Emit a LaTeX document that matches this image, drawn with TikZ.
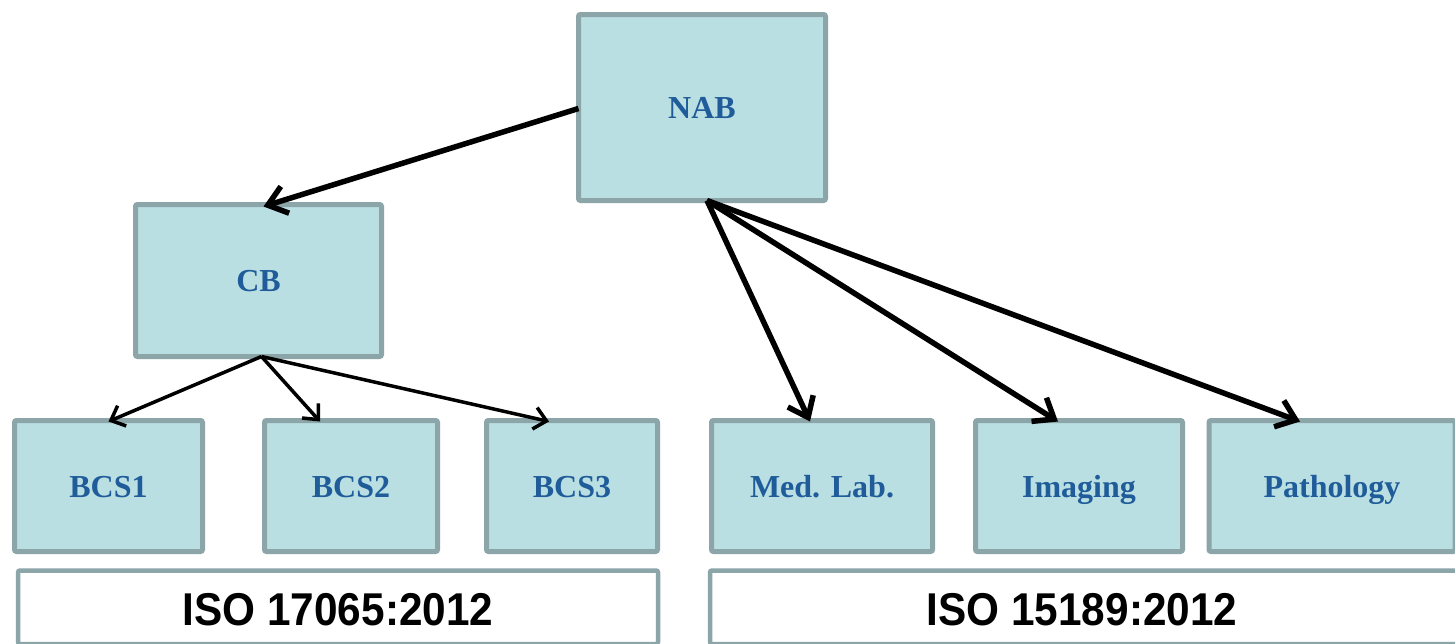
\documentclass[tikz,border=0pt]{standalone}
\usepackage{fontspec}
\setmainfont{Liberation Serif}
\newfontfamily\isofont{Liberation Sans}
\usetikzlibrary{arrows.meta,calc}
\definecolor{boxfill}{HTML}{BADFE3}
\definecolor{boxline}{HTML}{8BA5A8}
\definecolor{boxtext}{HTML}{1F5C99}
\begin{document}
\begin{tikzpicture}[x=1pt,y=-1pt,
  unit/.style={draw=boxline,fill=boxfill,line width=5pt,rounded corners=2pt,
    text=boxtext,font=\fontsize{32}{36}\selectfont\bfseries,inner sep=0pt,outer sep=0pt,
    text height=22pt,text depth=0pt},
  isobox/.style={draw=boxline,fill=white,line width=4.5pt,rounded corners=2pt,inner sep=0pt,outer sep=0pt},
  isotext/.style={font=\isofont\fontsize{46}{50}\selectfont\bfseries,xscale=0.92,anchor=base,inner sep=0pt},
  bigarrow/.style={line width=5.5pt,-{Straight Barb[length=18pt,width=28pt,line width=5.5pt]}},
  smallarrow/.style={line width=3.5pt,-{Straight Barb[length=12pt,width=22pt,line width=3.5pt]}}]
\clip (0,0) rectangle (1455,643);
\useasboundingbox (0,0) rectangle (1455,643);
\fill[white] (0,0) rectangle (1455,643);
% boxes (centerline sizes)
\node[unit,minimum width=247pt,minimum height=186pt] (NAB) at (702,107.5) {NAB};
\node[unit,minimum width=246pt,minimum height=152pt] (CB) at (258.5,280.5) {CB};
\node[unit,minimum width=188pt,minimum height=131pt] (B1) at (108.5,486) {BCS1};
\node[unit,minimum width=173pt,minimum height=131pt] (B2) at (351,486) {BCS2};
\node[unit,minimum width=171pt,minimum height=131pt] (B3) at (572,486) {BCS3};
\node[unit,minimum width=221pt,minimum height=131pt] (ML) at (822,486) {Med. Lab.};
\node[unit,minimum width=207pt,minimum height=131pt] (IM) at (1079,486) {Imaging};
\node[unit,minimum width=246pt,minimum height=131pt] (PA) at (1332,486) {Pathology};
\node[isobox,minimum width=640pt,minimum height=73.5pt] (ISO1) at (338,607.25) {};
\node[isotext] (ISO1t) at (338,625) {ISO 17065:2012};
\node[isobox,minimum width=750pt,minimum height=73.5pt] (ISO2) at (1085,607.25) {};
\node[isotext] (ISO2t) at (1082,625) {ISO 15189:2012};
% connectors
\coordinate (nabs) at ([xshift=5pt]NAB.south);
\coordinate (cbs) at ([xshift=3pt]CB.south);
\draw[bigarrow] ([yshift=-1pt]NAB.west) -- ([xshift=5pt,yshift=-2pt]CB.north);
\draw[bigarrow] (nabs) -- ([xshift=-12pt,yshift=-1pt]ML.north);
\draw[bigarrow] (nabs) -- ([xshift=-21pt,yshift=-1pt]IM.north);
\draw[bigarrow] (nabs) -- ([xshift=-32pt,yshift=-1pt]PA.north);
\draw[smallarrow] (cbs) -- ([yshift=-1pt]B1.north);
\draw[smallarrow] (cbs) -- ([xshift=-31pt,yshift=-1pt]B2.north);
\draw[smallarrow] (cbs) -- ([xshift=-23pt,yshift=-1pt]B3.north);
\end{tikzpicture}
\end{document}
